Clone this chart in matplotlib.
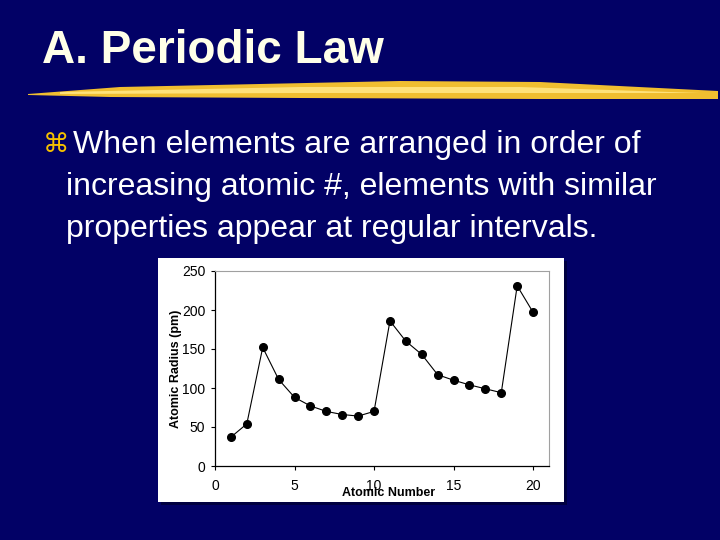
import matplotlib
matplotlib.use("Agg")
import matplotlib.pyplot as plt
from matplotlib.patches import Rectangle, Polygon

# data
atomic_number = [1, 2, 3, 4, 5, 6, 7, 8, 9, 10, 11, 12, 13, 14, 15, 16, 17, 18, 19, 20]
atomic_radius = [37, 54, 152, 111, 88, 77, 70, 66, 64, 70, 186, 160, 143, 117, 110, 104, 99, 94, 231, 197]
x_ticks = [0, 5, 10, 15, 20]
y_ticks = [0, 50, 100, 150, 200, 250]

title = "A. Periodic Law"
bullet_lines = ["When elements are arranged in order of",
                "increasing atomic #, elements with similar",
                "properties appear at regular intervals."]

navy = "#020166"
W, H = 720, 540

plt.rcParams['font.family'] = ['Liberation Sans', 'DejaVu Sans']
fig = plt.figure(figsize=(7.2, 5.4), dpi=100)
fig.patch.set_facecolor(navy)

def fx(px):
    return px / W

def fy(py):
    return 1 - py / H

# title
fig.text(fx(42), fy(63), title, color="#FFFFE8", fontsize=33, fontweight="bold",
         va="baseline", ha="left")

# yellow brush stroke under the title
stroke = Polygon([(fx(28), fy(94)), (fx(120), fy(87)), (fx(400), fy(81)), (fx(540), fy(82)),
                  (fx(718), fy(91)), (fx(718), fy(99)), (fx(540), fy(99)), (fx(300), fy(98)),
                  (fx(110), fy(97)), (fx(28), fy(95))],
                 closed=True, transform=fig.transFigure, facecolor="#F0BE30", edgecolor="none")
fig.patches.append(stroke)
hi = Polygon([(fx(60), fy(92)), (fx(300), fy(87)), (fx(520), fy(87)), (fx(700), fy(93)),
              (fx(520), fy(93)), (fx(300), fy(93)), (fx(60), fy(94))],
             closed=True, transform=fig.transFigure, facecolor="#FFE27A", edgecolor="none")
fig.patches.append(hi)

# bullet text
fig.text(fx(43), fy(152), "\u2318", color="#F5C000", fontsize=19, va="baseline", ha="left",
         family=['DejaVu Sans'])
baselines = [153, 195, 237]
for i, line in enumerate(bullet_lines):
    fig.text(fx(66) if i else fx(73), fy(baselines[i]), line, color="white", fontsize=23,
             va="baseline", ha="left")

# white chart box with shadow
fig.patches.append(Rectangle((fx(161), fy(505)), fx(406), 244 / H, transform=fig.transFigure,
                             facecolor="#000040", edgecolor="none", zorder=-2))
fig.patches.append(Rectangle((fx(158), fy(502)), fx(406), 244 / H, transform=fig.transFigure,
                             facecolor="white", edgecolor="none", zorder=-1))

ax = fig.add_axes([fx(215), fy(466), fx(549 - 215), (466 - 271) / H])
ax.set_zorder(3)
ax.set_facecolor("white")
ax.plot(atomic_number, atomic_radius, color="black", lw=0.8, marker="o", markersize=5.5)
ax.set_xlim(0, 21)
ax.set_ylim(0, 250)
ax.set_xticks(x_ticks)
ax.set_yticks(y_ticks)
ax.tick_params(axis="both", labelsize=10, direction="out", length=3, width=0.8, colors="black")
ax.tick_params(axis="x", pad=6)
ax.tick_params(axis="y", pad=4)
for s in ["top", "right"]:
    ax.spines[s].set_color("#A0A0A0")
    ax.spines[s].set_linewidth(0.8)
for s in ["left", "bottom"]:
    ax.spines[s].set_linewidth(0.9)

ax.set_xlabel("Atomic Number", fontsize=9, fontweight="bold")
ax.xaxis.set_label_coords(0.52, -0.11)
ax.set_ylabel("Atomic Radius (pm)", fontsize=9, fontweight="bold")
ax.yaxis.set_label_coords(-0.10, 0.5)

fig.savefig("out.png", dpi=100, facecolor=navy)
